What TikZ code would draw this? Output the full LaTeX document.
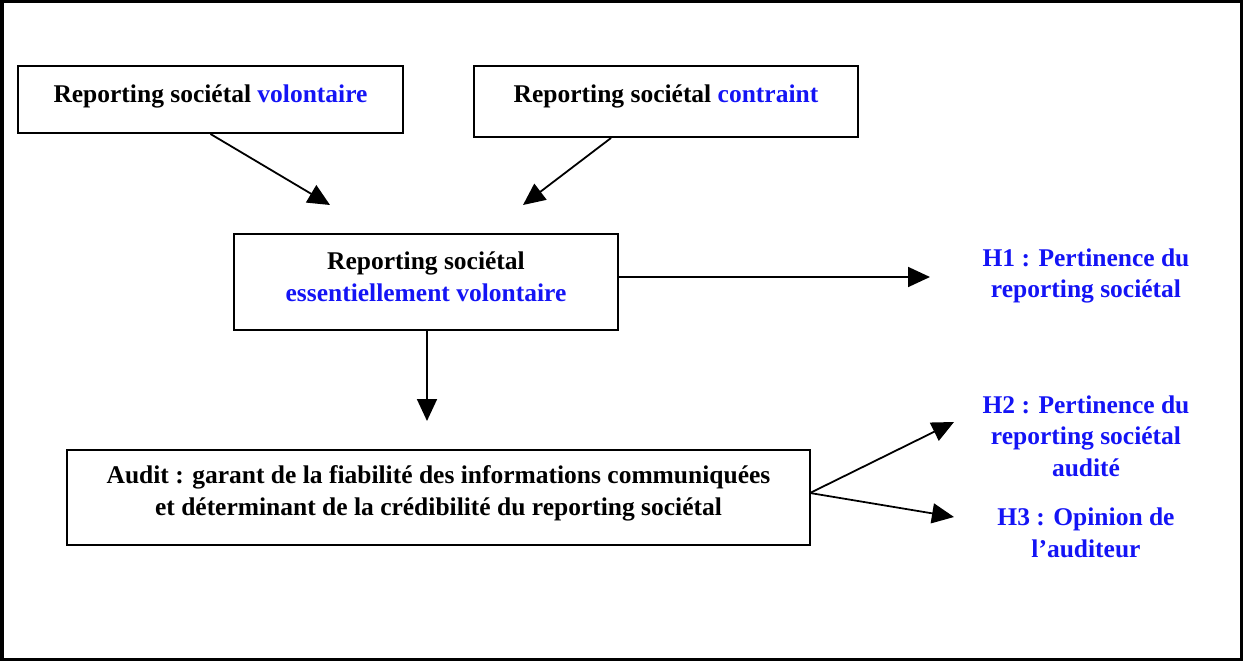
\documentclass[tikz,border=0pt]{standalone}
\usepackage{fontspec}
\setmainfont{Liberation Serif}
\usetikzlibrary{arrows.meta}
\definecolor{hypblue}{RGB}{20,20,245}
\tikzset{
  frame/.style={draw, line width=3.5pt},
  stepbox/.style={draw, line width=2pt, rectangle, inner sep=0pt},
  txt/.style={align=center, font=\fontsize{25.5}{31.5}\selectfont\bfseries, inner sep=0pt},
  hyp/.style={txt, text=hypblue},
  link/.style={line width=1.8pt, -{Triangle[length=22pt,width=20pt]}},
}
\begin{document}
\begin{tikzpicture}[x=1pt,y=-1pt]
  \useasboundingbox (0,0) rectangle (1243,661);
  \draw[frame] (1.75,1.75) rectangle (1241.25,659.25);

  % boxes
  \node[stepbox, minimum width=385pt, minimum height=67pt] (vol) at (210.5,99.5) {};
  \node[stepbox, minimum width=384pt, minimum height=71pt] (con) at (666,101.5) {};
  \node[stepbox, minimum width=384pt, minimum height=96pt] (ess) at (426,282) {};
  \node[stepbox, minimum width=743pt, minimum height=95pt] (aud) at (438.5,497.5) {};

  % box texts
  \node[txt] (tvol) at ([yshift=3pt]vol.center) {Reporting sociétal \textcolor{hypblue}{volontaire}};
  \node[txt] (tcon) at ([yshift=5pt]con.center) {Reporting sociétal \textcolor{hypblue}{contraint}};
  \node[txt] (tess) at ([yshift=5pt]ess.center) {Reporting sociétal\\\textcolor{hypblue}{essentiellement volontaire}};
  \node[txt] (taud) at ([yshift=4pt]aud.center) {Audit : garant de la fiabilité des informations communiquées\\et déterminant de la crédibilité du reporting sociétal};

  % hypotheses
  \node[hyp] (h1) at (1086,276) {H1 : Pertinence du\\reporting sociétal};
  \node[hyp] (h2) at (1086,436) {H2 : Pertinence du\\reporting sociétal\\audité};
  \node[hyp] (h3) at (1086,533) {H3 : Opinion de\\l’auditeur};

  % arrow ends
  \coordinate (a1) at (330,205);
  \coordinate (a2) at (523,205);
  \coordinate (a3) at (427,421);
  \coordinate (a4) at (930,277);
  \coordinate (a5) at (954,422);
  \coordinate (a6) at (954,517);
  \coordinate (fork) at (810,493);

  \draw[link] (vol.south) -- (a1);
  \draw[link] ([xshift=-55pt]con.south) -- (a2);
  \draw[link] (ess.south -| a3) -- (a3);
  \draw[link] (ess.east |- a4) -- (a4);
  \draw[link] (fork) -- (a5);
  \draw[link] (fork) -- (a6);
\end{tikzpicture}
\end{document}
